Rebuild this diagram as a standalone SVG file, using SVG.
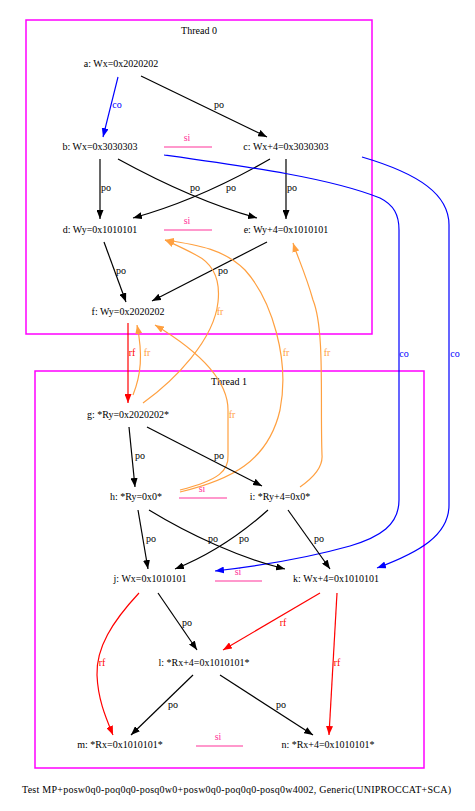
<svg xmlns="http://www.w3.org/2000/svg" width="475" height="811" viewBox="0 0 475 811">
<style>
text{font-family:"Liberation Serif","Times New Roman",serif;font-size:10px;fill:#000}
.n{text-anchor:middle}
.lb{text-anchor:middle}
.cl{fill:none;stroke:#ff00ff;stroke-width:1.5}
.e{fill:none;stroke-width:1.2}
.po{stroke:#000}
.co{stroke:#0000ff}
.rf{stroke:#ff0000}
.fr{stroke:#ffa040}
.si{stroke:#ff3399;stroke-width:1.2}
.tco{fill:#0000ff}
.trf{fill:#ff0000}
.tfr{fill:#ffa040}
.tsi{fill:#ff3399}
</style>
<defs>
<marker id="ap" markerWidth="9" markerHeight="7" refX="9" refY="3.5" orient="auto" markerUnits="userSpaceOnUse"><path d="M0,0 L9,3.5 L0,7 z" fill="#000"/></marker>
<marker id="ac" markerWidth="9" markerHeight="7" refX="9" refY="3.5" orient="auto" markerUnits="userSpaceOnUse"><path d="M0,0 L9,3.5 L0,7 z" fill="#0000ff"/></marker>
<marker id="ar" markerWidth="9" markerHeight="7" refX="9" refY="3.5" orient="auto" markerUnits="userSpaceOnUse"><path d="M0,0 L9,3.5 L0,7 z" fill="#ff0000"/></marker>
<marker id="af" markerWidth="9" markerHeight="7" refX="9" refY="3.5" orient="auto" markerUnits="userSpaceOnUse"><path d="M0,0 L9,3.5 L0,7 z" fill="#ffa040"/></marker>
</defs>
<g id="cluster0">
<rect class="cl" x="26" y="20" width="346" height="314"/>
<text class="n" x="199" y="34">Thread 0</text>
</g>
<g id="cluster1">
<rect class="cl" x="35" y="371" width="389" height="397"/>
<text class="n" x="229" y="385">Thread 1</text>
</g>
<g id="a"><text class="n" x="121" y="67">a: Wx=0x2020202</text></g>
<g id="b"><text class="n" x="100" y="150">b: Wx=0x3030303</text></g>
<g id="c"><text class="n" x="286" y="150">c: Wx+4=0x3030303</text></g>
<g id="d"><text class="n" x="100" y="233">d: Wy=0x1010101</text></g>
<g id="e"><text class="n" x="286" y="233">e: Wy+4=0x1010101</text></g>
<g id="f"><text class="n" x="128" y="315">f: Wy=0x2020202</text></g>
<g id="g"><text class="n" x="128" y="418">g: *Ry=0x2020202*</text></g>
<g id="h"><text class="n" x="136" y="500">h: *Ry=0x0*</text></g>
<g id="i"><text class="n" x="280" y="500">i: *Ry+4=0x0*</text></g>
<g id="j"><text class="n" x="150" y="582">j: Wx=0x1010101</text></g>
<g id="k"><text class="n" x="336" y="582">k: Wx+4=0x1010101</text></g>
<g id="l"><text class="n" x="204" y="666">l: *Rx+4=0x1010101*</text></g>
<g id="m"><text class="n" x="120" y="748">m: *Rx=0x1010101*</text></g>
<g id="n"><text class="n" x="328" y="748">n: *Rx+4=0x1010101*</text></g>
<g id="edges">
<!-- si -->
<line class="si" x1="164" y1="147" x2="212" y2="147"/>
<text class="lb tsi" x="187" y="141">si</text>
<line class="si" x1="164" y1="230" x2="212" y2="230"/>
<text class="lb tsi" x="187" y="224">si</text>
<line class="si" x1="179" y1="498" x2="227" y2="498"/>
<text class="lb tsi" x="202" y="492">si</text>
<line class="si" x1="215" y1="581" x2="262" y2="581"/>
<text class="lb tsi" x="238" y="575">si</text>
<line class="si" x1="196" y1="746" x2="243" y2="746"/>
<text class="lb tsi" x="218" y="740">si</text>
<!-- thread 0 -->
<path class="e co" d="M118,77 L103,137" marker-end="url(#ac)"/>
<text class="lb tco" x="117" y="108">co</text>
<path class="e po" d="M141,76 L267,137" marker-end="url(#ap)"/>
<text class="lb" x="219" y="108">po</text>
<path class="e po" d="M100,159 L100,219" marker-end="url(#ap)"/>
<text class="lb" x="106" y="191">po</text>
<path class="e po" d="M118,159 C160,182 210,205 257,218" marker-end="url(#ap)"/>
<text class="lb" x="195" y="191">po</text>
<path class="e po" d="M270,159 C230,182 180,205 133,218" marker-end="url(#ap)"/>
<text class="lb" x="231" y="191">po</text>
<path class="e po" d="M286,159 L286,219" marker-end="url(#ap)"/>
<text class="lb" x="292" y="191">po</text>
<path class="e po" d="M104,242 L126,302" marker-end="url(#ap)"/>
<text class="lb" x="121" y="274">po</text>
<path class="e po" d="M267,242 L152,301" marker-end="url(#ap)"/>
<text class="lb" x="223" y="274">po</text>
<!-- co long -->
<path class="e co" d="M164,155 C250,167 330,178 380,198 C394,205 399,215 399,230 L399,500 C399,525 380,537 350,546 C300,560 250,567 215,571" marker-end="url(#ac)"/>
<text class="lb tco" x="404" y="357">co</text>
<path class="e co" d="M362,157 C420,174 449,195 449,225 L449,505 C449,535 420,552 377,568" marker-end="url(#ac)"/>
<text class="lb tco" x="455" y="357">co</text>
<!-- rf f->g -->
<path class="e rf" d="M128,323 L128,403" marker-end="url(#ar)"/>
<text class="lb trf" x="132" y="356">rf</text>
<!-- fr -->
<path class="e fr" d="M133,395 C141,375 143,355 137,325" marker-end="url(#af)"/>
<text class="lb tfr" x="147" y="356">fr</text>
<path class="e fr" d="M143,403 C175,380 214,340 218,302 C221,275 210,262 196,255 C185,249 176,245 165,240" marker-end="url(#af)"/>
<text class="lb tfr" x="220" y="315">fr</text>
<path class="e fr" d="M180,490 C220,480 229,470 228,455 L228,410 C228,380 200,352 155,325" marker-end="url(#af)"/>
<text class="lb tfr" x="232" y="418">fr</text>
<path class="e fr" d="M180,492 C230,480 268,462 280,410 C290,360 272,300 245,270 C225,250 200,245 165,240" marker-end="url(#af)"/>
<text class="lb tfr" x="286" y="356">fr</text>
<path class="e fr" d="M300,487 C316,476 323,466 322,455 C320,400 325,330 313,300 C306,275 298,258 293,243" marker-end="url(#af)"/>
<text class="lb tfr" x="327" y="356">fr</text>
<!-- thread 1 -->
<path class="e po" d="M129,427 L135,487" marker-end="url(#ap)"/>
<text class="lb" x="140" y="459">po</text>
<path class="e po" d="M147,427 L262,486" marker-end="url(#ap)"/>
<text class="lb" x="219" y="459">po</text>
<path class="e po" d="M138,510 L148,569" marker-end="url(#ap)"/>
<text class="lb" x="151" y="542">po</text>
<path class="e po" d="M149,510 C190,535 240,558 285,569" marker-end="url(#ap)"/>
<text class="lb" x="213" y="542">po</text>
<path class="e po" d="M268,510 C240,535 210,555 175,569" marker-end="url(#ap)"/>
<text class="lb" x="244" y="542">po</text>
<path class="e po" d="M288,510 L330,569" marker-end="url(#ap)"/>
<text class="lb" x="319" y="542">po</text>
<path class="e po" d="M158,593 L197,650" marker-end="url(#ap)"/>
<text class="lb" x="187" y="626">po</text>
<path class="e rf" d="M320,593 L223,650" marker-end="url(#ar)"/>
<text class="lb trf" x="283" y="626">rf</text>
<path class="e rf" d="M139,593 C112,622 96,648 97,675 C98,700 106,718 113,735" marker-end="url(#ar)"/>
<text class="lb trf" x="102" y="666">rf</text>
<path class="e rf" d="M337,593 L329,735" marker-end="url(#ar)"/>
<text class="lb trf" x="337" y="666">rf</text>
<path class="e po" d="M193,675 L131,735" marker-end="url(#ap)"/>
<text class="lb" x="173" y="708">po</text>
<path class="e po" d="M220,675 L313,735" marker-end="url(#ap)"/>
<text class="lb" x="281" y="708">po</text>
</g>
<text x="22" y="793" textLength="429" lengthAdjust="spacing">Test MP+posw0q0-poq0q0-posq0w0+posw0q0-poq0q0-posq0w4002, Generic(UNIPROCCAT+SCA)</text>
</svg>
